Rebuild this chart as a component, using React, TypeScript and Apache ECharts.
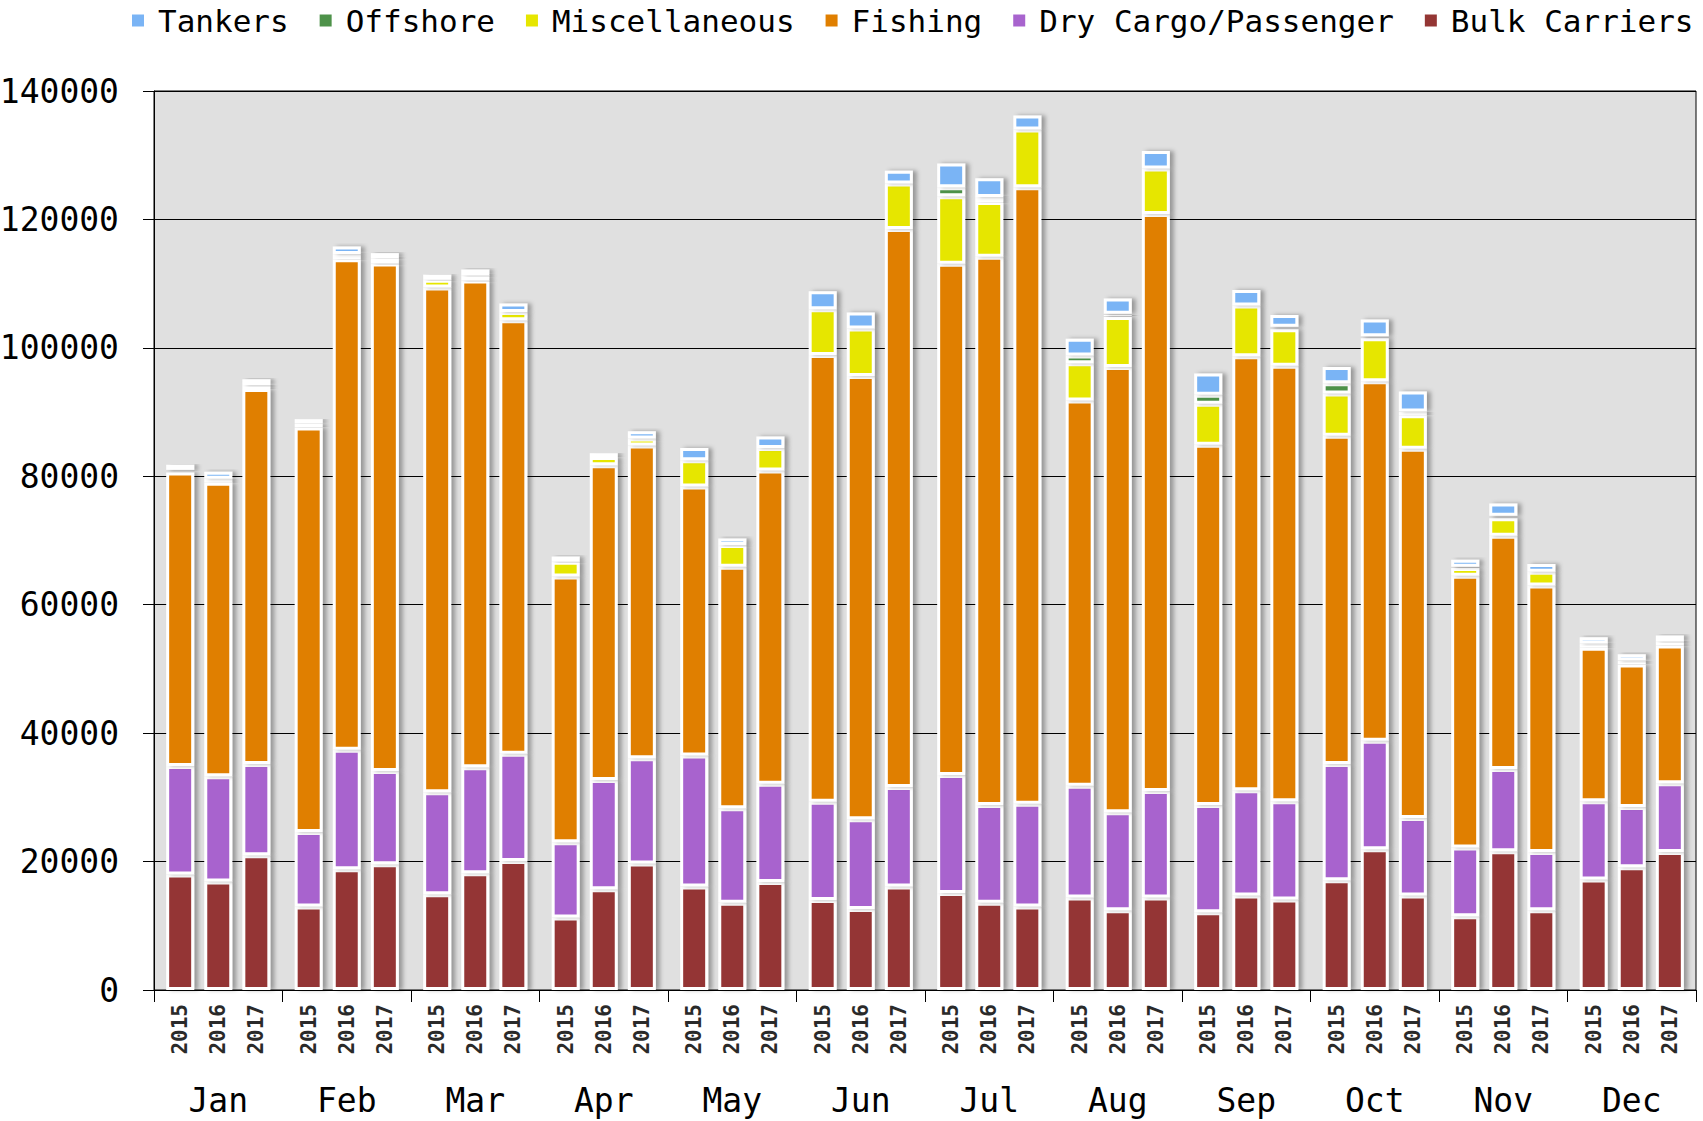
import React, { useEffect, useRef } from "react";
import * as echarts from "echarts";

const FONT = "DejaVu Sans Mono";

const months = ["Jan", "Feb", "Mar", "Apr", "May", "Jun", "Jul", "Aug", "Sep", "Oct", "Nov", "Dec"];
const years = ["2015", "2016", "2017"];

const bulk2015 = [18000, 13000, 14900, 11300, 16100, 14000, 15100, 14400, 12100, 17100, 11500, 17200];
const bulk2016 = [16900, 18800, 18200, 15700, 13600, 12600, 13600, 12400, 14700, 21900, 21600, 19100];
const bulk2017 = [21000, 19600, 20100, 19700, 16800, 16100, 13000, 14400, 14100, 14700, 12400, 21500];

const dry2015 = [16900, 11600, 15900, 11700, 20400, 15300, 18400, 17400, 16700, 18100, 10700, 12200];
const dry2016 = [16400, 18600, 16500, 17000, 14700, 14000, 15200, 15300, 16400, 16900, 12800, 9400];
const dry2017 = [14200, 14500, 16700, 16400, 15300, 15500, 16000, 16600, 15300, 12100, 9100, 10700];

const fishing2015 = [45700, 63000, 78600, 41400, 41900, 69600, 79600, 60000, 56100, 51100, 42300, 23900];
const fishing2016 = [45700, 76400, 75800, 49000, 37600, 69000, 85400, 69300, 67600, 56000, 36350, 22200];
const fishing2017 = [58400, 79050, 67500, 48700, 48800, 86900, 96000, 89850, 67800, 57500, 41500, 21450];

const misc2015 = [400, 600, 1200, 2300, 4100, 7100, 10500, 5800, 6400, 6600, 1200, 650];
const misc2016 = [600, 800, 800, 1300, 3400, 7400, 8500, 7800, 7900, 6700, 2700, 600];
const misc2017 = [600, 800, 1300, 1100, 3500, 7100, 9000, 7100, 5700, 5200, 2150, 650];

const offshore2015 = [0, 0, 0, 0, 0, 0, 1400, 1200, 1400, 1600, 200, 0];
const offshore2016 = [0, 0, 0, 0, 0, 0, 800, 500, 0, 300, 400, 0];
const offshore2017 = [0, 0, 0, 0, 0, 0, 0, 0, 400, 600, 0, 0];

const tankers2015 = [800, 700, 800, 800, 1900, 2800, 3700, 2600, 3300, 2500, 1100, 1000];
const tankers2016 = [1100, 1200, 900, 600, 1000, 2500, 2900, 2400, 2400, 2600, 1900, 1000];
const tankers2017 = [900, 800, 1300, 1100, 1800, 2000, 2200, 2700, 1800, 3100, 1200, 900];

const legendOrder = ["Tankers", "Offshore", "Miscellaneous", "Fishing", "Dry Cargo/Passenger", "Bulk Carriers"];

const types = [
  { name: "Bulk Carriers", color: "#943634", data: [bulk2015, bulk2016, bulk2017] },
  { name: "Dry Cargo/Passenger", color: "#a864ce", data: [dry2015, dry2016, dry2017] },
  { name: "Fishing", color: "#e07f00", data: [fishing2015, fishing2016, fishing2017] },
  { name: "Miscellaneous", color: "#e6e600", data: [misc2015, misc2016, misc2017] },
  { name: "Offshore", color: "#4e924a", data: [offshore2015, offshore2016, offshore2017] },
  { name: "Tankers", color: "#7ab4f5", data: [tankers2015, tankers2016, tankers2017] },
];

export default function App() {
  const ref = useRef<HTMLDivElement>(null);

  useEffect(() => {
    if (!ref.current) return;
    const chart = echarts.init(ref.current, null, { renderer: "svg" });

    const series: any[] = [];
    types.forEach((t) => {
      years.forEach((y, yi) => {
        const s: any = {
          name: t.name,
          type: "bar",
          stack: y,
          data: t.data[yi].map((v) => (v === 0 ? "-" : v)),
          barWidth: 28,
          barGap: "36%",
          itemStyle: {
            color: t.color,
            borderColor: "#ffffff",
            borderWidth: 3,
            shadowColor: "rgba(0,0,0,0.32)",
            shadowBlur: 4,
            shadowOffsetX: 4,
            shadowOffsetY: 0,
          },
          emphasis: { disabled: true },
        };
        if (t.name === "Bulk Carriers") {
          s.label = {
            show: true,
            position: "bottom",
            distance: 14,
            rotate: 90,
            align: "right",
            verticalAlign: "middle",
            formatter: () => y,
            fontFamily: FONT,
            fontSize: 21,
            fontWeight: "bold",
            color: "#2a2a2a",
          };
        }
        series.push(s);
      });
    });

    chart.setOption({
      animation: false,
      color: types.map((t) => t.color),
      legend: {
        data: legendOrder,
        left: 130,
        top: 0,
        padding: [5, 0, 0, 0],
        width: 2400,
        itemWidth: 14,
        itemHeight: 14,
        itemGap: 29,
        icon: "rect",
        selectedMode: false,
        textStyle: {
          fontFamily: FONT,
          fontSize: 31,
          lineHeight: 28,
          color: "#000000",
          padding: [0, 0, 0, 8],
        },
      },
      grid: {
        left: 154,
        right: 7,
        top: 91,
        bottom: 131,
        show: true,
        backgroundColor: "#e0e0e0",
        borderColor: "#000000",
        borderWidth: 1,
        outerBoundsMode: "none",
        containLabel: false,
      },
      xAxis: {
        type: "category",
        data: months,
        boundaryGap: true,
        axisLine: { show: true, lineStyle: { color: "#000000", width: 1 } },
        axisTick: { show: true, length: 12, alignWithLabel: false, lineStyle: { color: "#000000" } },
        axisLabel: { fontFamily: FONT, fontSize: 33, color: "#000000", margin: 94 },
        splitLine: { show: false },
      },
      yAxis: {
        type: "value",
        min: 0,
        max: 140000,
        interval: 20000,
        axisLine: { show: true, lineStyle: { color: "#000000", width: 1 } },
        axisTick: { show: true, length: 11, lineStyle: { color: "#000000" } },
        axisLabel: {
          fontFamily: FONT,
          fontSize: 33,
          color: "#000000",
          margin: 35,
          formatter: (v: number) => String(v),
        },
        splitLine: { show: true, lineStyle: { color: "#000000", width: 1 } },
      },
      series,
    });

    return () => chart.dispose();
  }, []);

  return (
    <div
      ref={ref}
      style={{ position: "absolute", left: 0, top: 0, width: 1703, height: 1121 }}
    />
  );
}
